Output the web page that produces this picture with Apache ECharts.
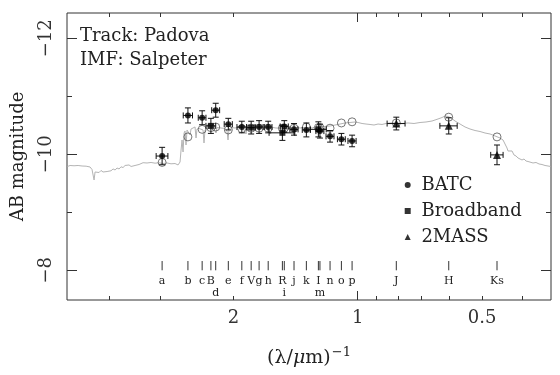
<!DOCTYPE html>
<html><head><meta charset="utf-8">
<script src="https://cdn.jsdelivr.net/npm/echarts@6/dist/echarts.min.js"></script>
<style>html,body{margin:0;padding:0;background:#fff}#c{width:560px;height:375px}</style>
</head><body><div id="c"></div>
<script>
const FONT = 'DejaVu Serif';
const INK = '#222';

// ---- model spectrum (wavelength in micron, AB mag) ----
const specLambda = [0.1983,0.2011,0.2033,0.2056,0.2079,0.2103,0.2126,0.2150,0.2174,0.2199,0.2223,0.2248,0.2273,0.2299,0.2312,0.2337,0.2364,0.2390,0.2417,0.2444,0.2472,0.2499,0.2527,0.2556,0.2585,0.2613,0.2643,0.2672,0.2702,0.2733,0.2763,0.2794,0.2826,0.2857,0.2889,0.2921,0.2954,0.2987,0.3021,0.3089,0.3159,0.3230,0.3303,0.3377,0.3454,0.3531,0.3611,0.3672,0.3713,0.3734,0.3755,0.3776,0.3797,0.3818,0.3839,0.3861,0.3904,0.3926,0.3948,0.3992,0.4037,0.4059,0.4082,0.4128,0.4174,0.4221,0.4244,0.4268,0.4316,0.4364,0.4414,0.4463,0.4513,0.4538,0.4564,0.4615,0.4667,0.4719,0.4771,0.4825,0.4852,0.4879,0.4934,0.4989,0.5045,0.5102,0.5159,0.5217,0.5276,0.5335,0.5364,0.5394,0.5455,0.5516,0.5578,0.5641,0.5704,0.5768,0.5832,0.5898,0.5964,0.6031,0.6099,0.6167,0.6236,0.6341,0.6412,0.6484,0.6557,0.6668,0.6780,0.6894,0.7010,0.7129,0.7249,0.7371,0.7496,0.7622,0.7751,0.7881,0.8015,0.8150,0.8287,0.8569,0.8812,0.9060,0.9317,0.9580,0.9850,1.0017,1.0243,1.0474,1.0710,1.0951,1.1199,1.1451,1.1709,1.1973,1.2380,1.2802,1.3237,1.3687,1.4153,1.4634,1.5132,1.5647,1.6000,1.6270,1.6545,1.6824,1.7203,1.7690,1.8190,1.8704,1.9233,1.9776,2.0335,2.0910,2.1501,2.2108,2.2481,2.2732,2.2987,2.3116,2.3375,2.3638,2.3902,2.4171,2.4442,2.4716,2.4993,2.5274,2.5557,2.5844,2.6133,2.6575,2.7023,2.7478,2.7941,2.8413,2.8892,2.9297];
const specMag = [-9.790,-9.807,-9.781,-9.802,-9.784,-9.807,-9.778,-9.798,-9.772,-9.795,-9.764,-9.781,-9.738,-9.557,-9.695,-9.712,-9.686,-9.721,-9.695,-9.729,-9.703,-9.733,-9.716,-9.747,-9.729,-9.764,-9.747,-9.784,-9.772,-9.807,-9.790,-9.816,-9.790,-9.824,-9.807,-9.836,-9.824,-9.850,-9.855,-9.850,-9.859,-9.847,-9.853,-9.841,-9.850,-9.836,-9.841,-9.816,-9.867,-10.074,-10.247,-10.040,-10.367,-10.402,-10.160,-10.419,-10.453,-10.333,-10.436,-10.453,-10.471,-10.281,-10.436,-10.445,-10.453,-10.419,-10.195,-10.419,-10.453,-10.462,-10.436,-10.471,-10.453,-10.367,-10.462,-10.471,-10.453,-10.471,-10.445,-10.402,-10.247,-10.436,-10.462,-10.471,-10.453,-10.462,-10.445,-10.462,-10.453,-10.436,-10.350,-10.445,-10.453,-10.462,-10.445,-10.453,-10.471,-10.453,-10.462,-10.453,-10.471,-10.453,-10.436,-10.453,-10.462,-10.453,-10.436,-10.453,-10.436,-10.445,-10.436,-10.453,-10.445,-10.462,-10.453,-10.462,-10.453,-10.462,-10.453,-10.471,-10.462,-10.471,-10.479,-10.488,-10.505,-10.522,-10.540,-10.548,-10.557,-10.548,-10.531,-10.522,-10.514,-10.505,-10.522,-10.514,-10.531,-10.540,-10.540,-10.531,-10.540,-10.531,-10.548,-10.557,-10.574,-10.609,-10.634,-10.660,-10.652,-10.626,-10.574,-10.522,-10.471,-10.436,-10.410,-10.393,-10.367,-10.350,-10.316,-10.281,-10.247,-10.178,-10.109,-10.057,-10.031,-10.057,-9.988,-9.971,-9.936,-9.953,-9.902,-9.919,-9.884,-9.876,-9.884,-9.850,-9.859,-9.833,-9.824,-9.807,-9.798,-9.790];

// ---- BATC photometry ----
const batcNames  = ['a','b','c','d','e','f','g','h','i','j','k','m','n','o','p'];
const batcLambda = [0.336,0.388,0.420,0.453,0.486,0.524,0.577,0.607,0.664,0.701,0.751,0.810,0.857,0.913,0.969];
const batcMag    = [-9.97,-10.67,-10.63,-10.76,-10.52,-10.47,-10.47,-10.47,-10.48,-10.43,-10.42,-10.40,-10.31,-10.26,-10.23];
const batcErr    = [0.15,0.13,0.12,0.12,0.10,0.10,0.11,0.10,0.10,0.10,0.12,0.12,0.10,0.10,0.10];
const batcHalfW  = [0.011,0.010,0.009,0.010,0.011,0.014,0.013,0.013,0.015,0.016,0.017,0.018,0.019,0.020,0.022];
const batcModel  = [-9.86,-10.30,-10.43,-10.47,-10.42,-10.44,-10.45,-10.45,-10.45,-10.45,-10.47,-10.46,-10.45,-10.54,-10.56];

// ---- Broadband photometry ----
const bbNames  = ['B','V','R','I'];
const bbLambda = [0.441,0.552,0.657,0.803];
const bbMag    = [-10.49,-10.46,-10.37,-10.43];
const bbErr    = [0.13,0.11,0.13,0.13];
const bbHalfW  = [0.012,0.013,0.047,0.036];
const bbModel  = [-10.46,-10.45,-10.45,-10.46];

// ---- 2MASS photometry ----
const tmNames  = ['J','H','Ks'];
const tmLambda = [1.240,1.661,2.174];
const tmMag    = [-10.53,-10.49,-9.99];
const tmErr    = [0.11,0.14,0.17];
const tmHalfW  = [0.062,0.080,0.075];
const tmModel  = [-10.54,-10.64,-10.30];

// ---- filter markers along the bottom ----
const filtLabels = ['a','b','c','B','d','e','f','V','g','h','R','i','j','k','I','m','n','o','p','J','H','Ks'];
const filtLambda = [0.336,0.388,0.420,0.441,0.453,0.486,0.524,0.552,0.577,0.607,0.657,0.664,0.701,0.751,0.803,0.810,0.857,0.913,0.969,1.240,1.661,2.174];
const filtRow    = [0,0,0,0,1,0,0,0,0,0,0,1,0,0,0,1,0,0,0,0,0,0];

// ---- axis ticks: (lambda/micron)^-1 and AB magnitude ----
const xTickMinor = [4,3,2,1,0.9,0.8,0.7,0.6,0.5,0.4];
const xTickMajor = [1];
const xTickLabels = [2,1,0.5];
const yTickMinor = [-12,-11,-10,-9,-8];
const yTickMajor = [-12,-10,-8];

// x coordinate is log10 of inverse wavelength
const lx = nu => Math.log10(nu);
const fromLambda = l => Math.log10(1 / l);

const X_MIN = -0.468, X_MAX = 0.704;
const Y_MIN = -12.436, Y_MAX = -7.488;

function errData(lam, mag, err, hw) {
  return lam.map((l, i) => [fromLambda(l), mag[i], err[i], fromLambda(l + hw[i]), fromLambda(l - hw[i])]);
}
const errAll = [].concat(
  errData(batcLambda, batcMag, batcErr, batcHalfW),
  errData(bbLambda, bbMag, bbErr, bbHalfW),
  errData(tmLambda, tmMag, tmErr, tmHalfW)
);
const modelPts = [].concat(
  batcLambda.map((l, i) => [fromLambda(l), batcModel[i]]),
  bbLambda.map((l, i) => [fromLambda(l), bbModel[i]]),
  tmLambda.map((l, i) => [fromLambda(l), tmModel[i]])
);

function renderErr(params, api) {
  const x = api.value(0), y = api.value(1), e = api.value(2), xl = api.value(3), xh = api.value(4);
  const c = api.coord([x, y]);
  const t = api.coord([x, y - e]);
  const b = api.coord([x, y + e]);
  const l = api.coord([xl, y]);
  const r = api.coord([xh, y]);
  const cap = 3;
  const st = { stroke: '#111', lineWidth: 1, fill: null };
  return { type: 'group', children: [
    { type: 'line', shape: { x1: c[0], y1: t[1], x2: c[0], y2: b[1] }, style: st },
    { type: 'line', shape: { x1: c[0] - cap, y1: t[1], x2: c[0] + cap, y2: t[1] }, style: st },
    { type: 'line', shape: { x1: c[0] - cap, y1: b[1], x2: c[0] + cap, y2: b[1] }, style: st },
    { type: 'line', shape: { x1: l[0], y1: c[1], x2: r[0], y2: c[1] }, style: st },
    { type: 'line', shape: { x1: l[0], y1: c[1] - cap, x2: l[0], y2: c[1] + cap }, style: st },
    { type: 'line', shape: { x1: r[0], y1: c[1] - cap, x2: r[0], y2: c[1] + cap }, style: st }
  ]};
}

const FT_TOP = -8.16, FT_BOT = -8.0, FT_ROW0 = -7.814, FT_ROW1 = -7.612;
function renderFilt(params, api) {
  const x = api.value(0), row = api.value(1);
  const p0 = api.coord([x, FT_TOP]);
  const p1 = api.coord([x, FT_BOT]);
  const pt = api.coord([x, row ? FT_ROW1 : FT_ROW0]);
  return { type: 'group', children: [
    { type: 'line', shape: { x1: p0[0], y1: p0[1], x2: p1[0], y2: p1[1] }, style: { stroke: '#333', lineWidth: 1 } },
    { type: 'text', x: pt[0], y: pt[1], style: { text: filtLabels[params.dataIndex], fill: INK, font: '11px "DejaVu Serif"', align: 'center', verticalAlign: 'middle' } }
  ]};
}

const nuFmt = v => String(Math.round(Math.pow(10, v) * 100) / 100);
const magFmt = v => (v < 0 ? '\u2212' : '') + Math.abs(Math.round(v));

function xAx(pos, ticks, len, labels) {
  return {
    type: 'value', position: pos, inverse: true, min: X_MIN, max: X_MAX,
    axisLine: { show: false, onZero: false }, splitLine: { show: false },
    axisTick: { show: true, inside: true, length: len, customValues: ticks.map(lx), lineStyle: { color: '#333', width: 1 } },
    axisLabel: labels ? { show: true, customValues: labels.map(lx), formatter: nuFmt, margin: 9, color: '#333', fontFamily: FONT, fontSize: 18 } : { show: false }
  };
}
function yAx(pos, ticks, len, labels) {
  return {
    type: 'value', position: pos, inverse: true, min: Y_MIN, max: Y_MAX,
    axisLine: { show: false, onZero: false }, splitLine: { show: false },
    axisTick: { show: true, inside: true, length: len, customValues: ticks, lineStyle: { color: '#333', width: 1 } },
    axisLabel: labels ? { show: true, customValues: labels, formatter: magFmt, rotate: 90, margin: 12, color: '#333', fontFamily: FONT, fontSize: 18 } : { show: false }
  };
}

const xAxes = [xAx('bottom', xTickMinor, 4, xTickLabels), xAx('bottom', xTickMajor, 9, null), xAx('top', xTickMinor, 4, null), xAx('top', xTickMajor, 9, null)];
Object.assign(xAxes[0], {
  name: '{a|(\u03bb/}{i|\u03bc}{a|m)}{s|\u22121}', nameLocation: 'middle', nameGap: 46,
  nameTextStyle: { rich: {
    a: { fontFamily: FONT, fontSize: 19, color: INK },
    i: { fontFamily: FONT, fontSize: 19, fontStyle: 'italic', color: INK },
    s: { fontFamily: FONT, fontSize: 13, color: INK, padding: [0, 0, 11, 1] }
  } }
});
const yAxes = [yAx('left', yTickMinor, 5, yTickMajor), yAx('left', yTickMajor, 10, null), yAx('right', yTickMinor, 5, null), yAx('right', yTickMajor, 10, null)];
Object.assign(yAxes[0], {
  name: 'AB magnitude', nameLocation: 'middle', nameGap: 40,
  nameTextStyle: { fontFamily: FONT, fontSize: 18, color: INK }
});

const chart = echarts.init(document.getElementById('c'), null, { renderer: 'canvas' });
chart.setOption({
  animation: false,
  backgroundColor: '#fff',
  title: {
    text: 'Track: Padova\nIMF: Salpeter', left: 80, top: 25, padding: 0,
    textStyle: { fontFamily: FONT, fontSize: 18, fontWeight: 'normal', color: INK, lineHeight: 23.4 }
  },
  grid: { left: 67, right: 9, top: 13, bottom: 75, show: true, borderColor: '#333', borderWidth: 1, backgroundColor: 'transparent', outerBoundsMode: 'none' },
  legend: {
    data: ['BATC', 'Broadband', '2MASS'], orient: 'vertical', left: 404.7, top: 176, padding: 0,
    itemWidth: 6, itemHeight: 6, itemGap: 8,
    formatter: n => ' ' + n,
    textStyle: { fontFamily: FONT, fontSize: 18, color: INK }
  },
  xAxis: xAxes,
  yAxis: yAxes,
  series: [
    { name: 'model', type: 'line', data: specLambda.map((l, i) => [fromLambda(l), specMag[i]]), showSymbol: false, symbol: 'none',
      lineStyle: { color: '#b4b4b4', width: 1 }, z: 1 },
    { name: 'model mags', type: 'scatter', data: modelPts, symbol: 'circle', symbolSize: 8,
      itemStyle: { color: 'rgba(0,0,0,0)', borderColor: '#555', borderWidth: 1 }, z: 2 },
    { name: 'errors', type: 'custom', data: errAll, renderItem: renderErr, encode: { x: 0, y: 1 }, z: 3 },
    { name: 'BATC', type: 'scatter', data: batcLambda.map((l, i) => [fromLambda(l), batcMag[i]]), symbol: 'circle', symbolSize: 6, itemStyle: { color: '#000' }, z: 4 },
    { name: 'Broadband', type: 'scatter', data: bbLambda.map((l, i) => [fromLambda(l), bbMag[i]]), symbol: 'rect', symbolSize: 6, itemStyle: { color: '#000' }, z: 4 },
    { name: '2MASS', type: 'scatter', data: tmLambda.map((l, i) => [fromLambda(l), tmMag[i]]), symbol: 'triangle', symbolSize: 8, itemStyle: { color: '#000' }, z: 4 },
    { name: 'filters', type: 'custom', data: filtLambda.map((l, i) => [fromLambda(l), filtRow[i]]), renderItem: renderFilt, encode: { x: 0, y: 1 }, z: 3 }
  ]
});
</script></body></html>
